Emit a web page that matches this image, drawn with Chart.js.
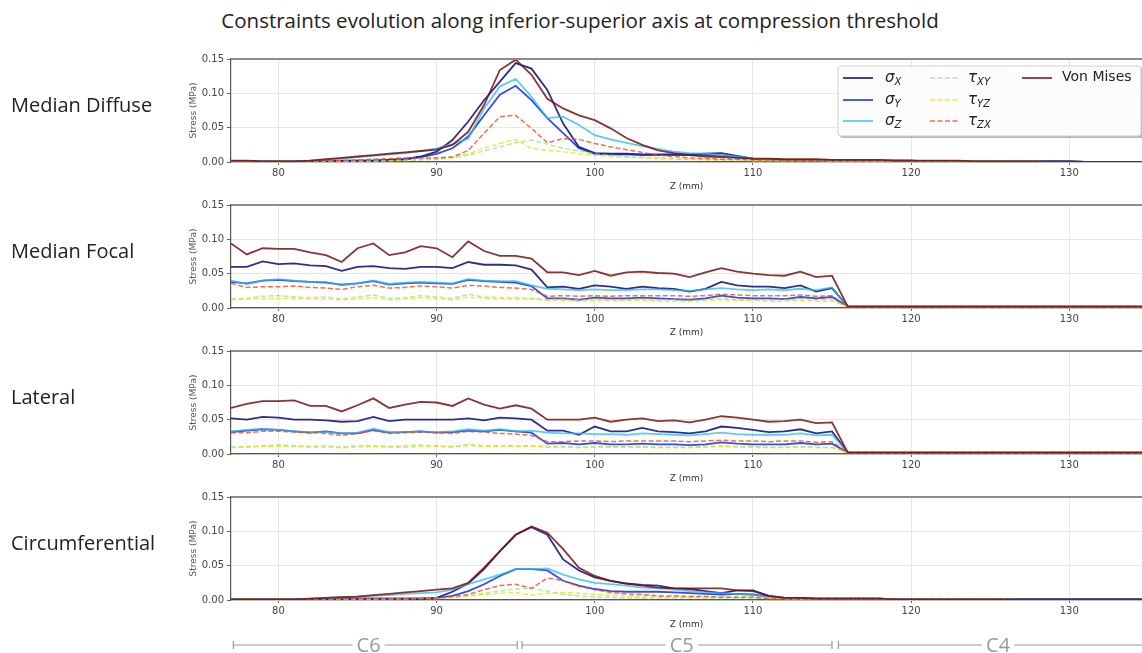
<!DOCTYPE html>
<html>
<head>
<meta charset="utf-8">
<title>Constraints evolution</title>
<script src="https://cdn.jsdelivr.net/npm/chart.js@4.4.1/dist/chart.umd.min.js"></script>
<style>
  html, body { margin: 0; padding: 0; background: #fff; width: 1142px; height: 653px; overflow: hidden; }
  .wrap { position: relative; width: 1142px; height: 653px; overflow: hidden; }
  canvas { position: absolute; left: 0; }
  .title { position: absolute; left: 80px; width: 1000px; top: 6px; text-align: center;
           font: 20.5px 'Open Sans', sans-serif; color: #222; white-space: nowrap; }
  .row-label { position: absolute; left: 11px; font: 20px 'Open Sans', sans-serif; color: #222;
               transform: translateY(-50%); white-space: nowrap; }
</style>
</head>
<body>
<div class="wrap" id="wrap">
  <div class="title">Constraints evolution along inferior-superior axis at compression threshold</div>
</div>

<script>
// Z positions (mm) along the inferior-superior axis
const zValues = [77,78,79,80,81,82,83,84,85,86,87,88,89,90,91,92,93,94,95,96,
  97,98,99,100,101,102,103,104,105,106,107,108,109,110,111,112,113,114,115,116,
  117,118,119,120,121,122,123,124,125,126,127,128,129,130,131,132,133,134,135];
const xTicks = [80, 90, 100, 110, 120, 130];
const yTicks = [0, 0.05, 0.10, 0.15];

const panelNames = ['Median Diffuse', 'Median Focal', 'Lateral', 'Circumferential'];

// legend: base symbol + subscript
const seriesBase = ['σ', 'σ', 'σ', 'τ', 'τ', 'τ', 'Von Mises'];
const seriesSub = ['X', 'Y', 'Z', 'XY', 'YZ', 'ZX', ''];
const seriesColors = ['rgba(0,0,110,0.82)', 'rgba(0,30,235,0.8)', 'rgba(40,185,240,0.75)',
  'rgba(120,225,100,0.6)', 'rgba(245,215,0,0.7)', 'rgba(240,75,30,0.8)', 'rgba(120,15,15,0.85)'];
const seriesDashed = [false, false, false, true, true, true, false];

// vertebra levels under the last panel
const vertebraNames = ['C6', 'C5', 'C4'];
const vertebraStart = [77.15, 95.4, 115.4];
const vertebraEnd = [95.1, 115.0, 136];
const vertebraLabelZ = [85.7, 105.5, 125.5];

// ---- Median Diffuse ----
const diffuseSx = [0.001,0.001,0.001,0.001,0.001,0.001,0.001,0.002,0.002,0.002,
  0.003,0.004,0.008,0.015,0.032,0.059,0.090,0.117,0.144,0.136,
  0.105,0.056,0.022,0.013,0.012,0.012,0.011,0.011,0.011,0.011,
  0.012,0.013,0.009,0.005,0.004,0.003,0.003,0.003,0.002,0.002,
  0.002,0.002,0.002,0.002,0.001,0.001,0.001,0.001,0.001,0.001,
  0.001,0.001,0.001,0.001,0,0,0,0,0];
const diffuseSy = [0.001,0.001,0.001,0.001,0.001,0.001,0.001,0.001,0.002,0.002,
  0.003,0.004,0.007,0.012,0.020,0.037,0.068,0.098,0.111,0.090,
  0.064,0.042,0.020,0.012,0.011,0.011,0.010,0.010,0.010,0.010,
  0.010,0.009,0.007,0.005,0.004,0.003,0.003,0.003,0.002,0.002,
  0.002,0.002,0.002,0.002,0.001,0.001,0.001,0.001,0.001,0.001,
  0.001,0.001,0.001,0.001,0,0,0,0,0];
const diffuseSz = [0.001,0.001,0.001,0.001,0.001,0.002,0.003,0.005,0.007,0.009,
  0.011,0.013,0.016,0.020,0.026,0.034,0.078,0.110,0.121,0.095,
  0.064,0.066,0.054,0.039,0.033,0.028,0.023,0.019,0.015,0.013,
  0.012,0.010,0.008,0.005,0.004,0.003,0.003,0.003,0.002,0.002,
  0.002,0.002,0.002,0.002,0.001,0.001,0.001,0.001,0.001,0.001,
  0.001,0.001,0.001,0.001,0,0,0,0,0];
const diffuseTxy = [0.001,0.001,0.001,0.001,0.001,0.001,0.001,0.001,0.001,0.001,
  0.002,0.002,0.003,0.004,0.006,0.010,0.016,0.022,0.028,0.032,
  0.026,0.020,0.016,0.012,0.010,0.008,0.007,0.006,0.005,0.004,
  0.004,0.003,0.003,0.002,0.002,0.002,0.002,0.002,0.001,0.001,
  0.001,0.001,0.001,0.001,0.001,0.001,0.001,0.001,0.001,0.001,
  0.001,0.001,0,0,0,0,0,0,0];
const diffuseTyz = [0.001,0.001,0.001,0.001,0.001,0.001,0.001,0.001,0.001,0.001,
  0.002,0.003,0.004,0.006,0.008,0.012,0.020,0.027,0.033,0.020,
  0.017,0.015,0.012,0.010,0.008,0.007,0.006,0.005,0.004,0.004,
  0.003,0.003,0.003,0.002,0.002,0.002,0.002,0.002,0.001,0.001,
  0.001,0.001,0.001,0.001,0.001,0.001,0.001,0.001,0.001,0.001,
  0.001,0.001,0,0,0,0,0,0,0];
const diffuseTzx = [0.001,0.001,0.001,0.001,0.001,0.001,0.002,0.002,0.003,0.004,
  0.005,0.006,0.006,0.006,0.007,0.017,0.042,0.066,0.068,0.049,
  0.028,0.034,0.033,0.027,0.022,0.018,0.014,0.010,0.008,0.006,
  0.005,0.004,0.004,0.003,0.003,0.003,0.002,0.002,0.002,0.002,
  0.002,0.002,0.001,0.001,0.001,0.001,0.001,0.001,0.001,0.001,
  0.001,0.001,0,0,0,0,0,0,0];
const diffuseVm = [0.002,0.002,0.001,0.001,0.001,0.002,0.004,0.006,0.008,0.010,
  0.012,0.014,0.016,0.018,0.025,0.044,0.083,0.134,0.149,0.127,
  0.092,0.078,0.068,0.061,0.049,0.035,0.025,0.017,0.013,0.010,
  0.008,0.007,0.006,0.005,0.005,0.004,0.004,0.004,0.003,0.003,
  0.003,0.003,0.002,0.002,0.002,0.002,0.002,0.001,0.001,0.001,
  0.001,0.001,0.001,0.001,0,0,0,0,0];

// ---- Median Focal ----
const focalSx = [0.060,0.060,0.068,0.064,0.065,0.062,0.061,0.054,0.060,0.061,
  0.058,0.057,0.060,0.060,0.058,0.067,0.063,0.063,0.062,0.056,
  0.030,0.031,0.028,0.033,0.031,0.028,0.031,0.029,0.028,0.024,
  0.028,0.038,0.033,0.031,0.031,0.029,0.033,0.024,0.029,0.002,
  0.002,0.002,0.002,0.002,0.002,0.002,0.002,0.002,0.002,0.002,
  0.002,0.002,0.002,0.002,0.002,0.002,0.002,0.002,0.002];
const focalSy = [0.038,0.036,0.040,0.041,0.039,0.038,0.037,0.034,0.036,0.039,
  0.034,0.036,0.037,0.036,0.035,0.041,0.039,0.038,0.037,0.032,
  0.014,0.014,0.012,0.015,0.014,0.014,0.015,0.014,0.013,0.012,
  0.014,0.018,0.015,0.014,0.014,0.013,0.016,0.014,0.016,0.002,
  0.002,0.002,0.002,0.002,0.002,0.002,0.002,0.002,0.002,0.002,
  0.002,0.002,0.002,0.002,0.002,0.002,0.002,0.002,0.002];
const focalSz = [0.040,0.035,0.040,0.042,0.040,0.038,0.038,0.033,0.036,0.040,
  0.035,0.037,0.038,0.037,0.036,0.042,0.040,0.039,0.039,0.033,
  0.028,0.027,0.026,0.027,0.026,0.026,0.027,0.027,0.026,0.025,
  0.027,0.029,0.027,0.026,0.027,0.026,0.028,0.026,0.030,0.002,
  0.002,0.002,0.002,0.002,0.002,0.002,0.002,0.002,0.002,0.002,
  0.002,0.002,0.002,0.002,0.002,0.002,0.002,0.002,0.002];
const focalTxy = [0.013,0.014,0.017,0.018,0.016,0.015,0.016,0.013,0.016,0.019,
  0.014,0.015,0.018,0.016,0.014,0.020,0.016,0.015,0.015,0.014,
  0.012,0.013,0.012,0.013,0.012,0.012,0.013,0.012,0.012,0.011,
  0.012,0.014,0.012,0.012,0.012,0.012,0.013,0.012,0.012,0.002,
  0.002,0.002,0.002,0.002,0.002,0.002,0.002,0.002,0.002,0.002,
  0.002,0.002,0.002,0.002,0.002,0.002,0.002,0.002,0.002];
const focalTyz = [0.012,0.013,0.014,0.014,0.014,0.013,0.013,0.012,0.013,0.015,
  0.012,0.013,0.015,0.014,0.012,0.016,0.014,0.013,0.013,0.013,
  0.011,0.011,0.010,0.011,0.011,0.011,0.011,0.010,0.010,0.010,
  0.011,0.012,0.011,0.011,0.010,0.010,0.011,0.010,0.010,0.002,
  0.002,0.002,0.002,0.002,0.002,0.002,0.002,0.002,0.002,0.002,
  0.002,0.002,0.002,0.002,0.002,0.002,0.002,0.002,0.002];
const focalTzx = [0.036,0.030,0.031,0.031,0.032,0.030,0.029,0.027,0.031,0.033,
  0.029,0.030,0.032,0.031,0.029,0.033,0.032,0.030,0.029,0.027,
  0.017,0.018,0.017,0.018,0.017,0.018,0.018,0.018,0.018,0.017,
  0.018,0.020,0.019,0.018,0.018,0.018,0.019,0.017,0.018,0.002,
  0.002,0.002,0.002,0.002,0.002,0.002,0.002,0.002,0.002,0.002,
  0.002,0.002,0.002,0.002,0.002,0.002,0.002,0.002,0.002];
const focalVm = [0.094,0.078,0.087,0.086,0.086,0.081,0.077,0.067,0.087,0.094,
  0.077,0.081,0.090,0.087,0.074,0.097,0.083,0.076,0.076,0.072,
  0.052,0.052,0.048,0.054,0.047,0.052,0.053,0.051,0.050,0.045,
  0.052,0.058,0.053,0.050,0.048,0.047,0.053,0.045,0.047,0.002,
  0.002,0.002,0.002,0.002,0.002,0.002,0.002,0.002,0.002,0.002,
  0.002,0.002,0.002,0.002,0.002,0.002,0.002,0.002,0.002];

// ---- Lateral ----
const lateralSx = [0.052,0.050,0.054,0.053,0.050,0.050,0.049,0.047,0.048,0.054,
  0.048,0.050,0.050,0.050,0.050,0.052,0.049,0.053,0.052,0.050,
  0.034,0.034,0.028,0.040,0.033,0.033,0.038,0.033,0.032,0.030,
  0.033,0.040,0.038,0.035,0.032,0.033,0.036,0.030,0.033,0.002,
  0.002,0.002,0.002,0.002,0.002,0.002,0.002,0.002,0.002,0.002,
  0.002,0.002,0.002,0.002,0.002,0.002,0.002,0.002,0.002];
const lateralSy = [0.032,0.034,0.036,0.035,0.033,0.031,0.033,0.030,0.030,0.035,
  0.031,0.032,0.033,0.031,0.032,0.034,0.033,0.035,0.033,0.031,
  0.015,0.016,0.014,0.016,0.014,0.014,0.015,0.014,0.014,0.013,
  0.014,0.017,0.015,0.014,0.014,0.014,0.016,0.014,0.015,0.002,
  0.002,0.002,0.002,0.002,0.002,0.002,0.002,0.002,0.002,0.002,
  0.002,0.002,0.002,0.002,0.002,0.002,0.002,0.002,0.002];
const lateralSz = [0.033,0.035,0.037,0.035,0.033,0.032,0.032,0.030,0.031,0.037,
  0.032,0.032,0.033,0.032,0.033,0.036,0.034,0.036,0.033,0.034,
  0.031,0.030,0.030,0.029,0.029,0.028,0.030,0.029,0.028,0.027,
  0.029,0.031,0.029,0.028,0.028,0.028,0.030,0.027,0.028,0.002,
  0.002,0.002,0.002,0.002,0.002,0.002,0.002,0.002,0.002,0.002,
  0.002,0.002,0.002,0.002,0.002,0.002,0.002,0.002,0.002];
const lateralTxy = [0.010,0.011,0.012,0.013,0.012,0.011,0.012,0.010,0.012,0.012,
  0.011,0.012,0.013,0.012,0.011,0.014,0.012,0.012,0.012,0.012,
  0.011,0.011,0.010,0.011,0.011,0.011,0.011,0.010,0.010,0.010,
  0.011,0.012,0.011,0.011,0.010,0.010,0.011,0.010,0.010,0.002,
  0.002,0.002,0.002,0.002,0.002,0.002,0.002,0.002,0.002,0.002,
  0.002,0.002,0.002,0.002,0.002,0.002,0.002,0.002,0.002];
const lateralTyz = [0.009,0.010,0.011,0.011,0.011,0.010,0.010,0.009,0.010,0.011,
  0.010,0.010,0.011,0.011,0.010,0.012,0.011,0.011,0.011,0.011,
  0.010,0.010,0.009,0.010,0.010,0.010,0.010,0.009,0.009,0.009,
  0.010,0.011,0.010,0.010,0.009,0.009,0.010,0.009,0.009,0.002,
  0.002,0.002,0.002,0.002,0.002,0.002,0.002,0.002,0.002,0.002,
  0.002,0.002,0.002,0.002,0.002,0.002,0.002,0.002,0.002];
const lateralTzx = [0.031,0.031,0.033,0.033,0.032,0.031,0.030,0.027,0.030,0.034,
  0.030,0.031,0.032,0.031,0.030,0.033,0.032,0.030,0.029,0.027,
  0.018,0.018,0.019,0.019,0.018,0.019,0.019,0.019,0.019,0.018,
  0.019,0.020,0.019,0.019,0.018,0.019,0.019,0.017,0.018,0.002,
  0.002,0.002,0.002,0.002,0.002,0.002,0.002,0.002,0.002,0.002,
  0.002,0.002,0.002,0.002,0.002,0.002,0.002,0.002,0.002];
const lateralVm = [0.067,0.073,0.077,0.077,0.078,0.070,0.070,0.062,0.071,0.081,
  0.067,0.072,0.076,0.075,0.070,0.081,0.072,0.066,0.071,0.066,
  0.050,0.050,0.050,0.053,0.047,0.050,0.052,0.048,0.049,0.046,
  0.050,0.055,0.053,0.050,0.047,0.048,0.050,0.045,0.046,0.002,
  0.002,0.002,0.002,0.002,0.002,0.002,0.002,0.002,0.002,0.002,
  0.002,0.002,0.002,0.002,0.002,0.002,0.002,0.002,0.002];

// ---- Circumferential ----
const circSx = [0.001,0.001,0.001,0.001,0.001,0.001,0.001,0.001,0.002,0.002,
  0.002,0.002,0.002,0.003,0.012,0.024,0.045,0.071,0.095,0.106,
  0.095,0.059,0.043,0.033,0.028,0.024,0.022,0.021,0.017,0.016,
  0.013,0.010,0.014,0.014,0.006,0.003,0.003,0.002,0.002,0.002,
  0.002,0.002,0.001,0.001,0.001,0.001,0.001,0.001,0.001,0.001,
  0.001,0.001,0.001,0.001,0.001,0.001,0.001,0.001,0.001];
const circSy = [0.001,0.001,0.001,0.001,0.001,0.001,0.001,0.001,0.002,0.002,
  0.002,0.002,0.002,0.003,0.006,0.013,0.023,0.035,0.045,0.045,
  0.043,0.028,0.021,0.016,0.013,0.012,0.012,0.012,0.011,0.010,
  0.009,0.008,0.009,0.008,0.005,0.003,0.002,0.002,0.002,0.002,
  0.002,0.002,0.001,0.001,0.001,0.001,0.001,0.001,0.001,0.001,
  0.001,0.001,0.001,0.001,0.001,0.001,0.001,0.001,0.001];
const circSz = [0.001,0.001,0.001,0.001,0.001,0.002,0.003,0.004,0.005,0.006,
  0.007,0.009,0.010,0.011,0.015,0.023,0.030,0.037,0.045,0.045,
  0.046,0.037,0.030,0.025,0.023,0.021,0.018,0.017,0.015,0.013,
  0.011,0.010,0.009,0.007,0.005,0.003,0.002,0.002,0.002,0.002,
  0.002,0.002,0.001,0.001,0.001,0.001,0.001,0.001,0.001,0.001,
  0.001,0.001,0.001,0.001,0.001,0.001,0.001,0.001,0.001];
const circTxy = [0.001,0.001,0.001,0.001,0.001,0.001,0.001,0.001,0.001,0.001,
  0.001,0.001,0.002,0.002,0.004,0.006,0.010,0.013,0.016,0.017,
  0.013,0.008,0.006,0.004,0.004,0.003,0.003,0.003,0.003,0.003,
  0.003,0.003,0.003,0.003,0.002,0.002,0.001,0.001,0.001,0.001,
  0.001,0.001,0.001,0.001,0.001,0.001,0.001,0.001,0.001,0.001,
  0,0,0,0,0,0,0,0,0];
const circTyz = [0.001,0.001,0.001,0.001,0.001,0.001,0.001,0.001,0.001,0.001,
  0.002,0.002,0.003,0.003,0.004,0.006,0.008,0.010,0.011,0.007,
  0.010,0.011,0.010,0.008,0.007,0.006,0.005,0.005,0.005,0.005,
  0.005,0.004,0.004,0.004,0.003,0.002,0.002,0.001,0.001,0.001,
  0.001,0.001,0.001,0.001,0.001,0.001,0.001,0.001,0.001,0.001,
  0,0,0,0,0,0,0,0,0];
const circTzx = [0.001,0.001,0.001,0.001,0.001,0.001,0.001,0.002,0.002,0.002,
  0.002,0.002,0.003,0.003,0.005,0.008,0.015,0.021,0.023,0.017,
  0.032,0.028,0.020,0.015,0.011,0.009,0.008,0.006,0.006,0.005,
  0.005,0.004,0.004,0.004,0.002,0.002,0.002,0.001,0.001,0.001,
  0.001,0.001,0.001,0.001,0.001,0.001,0.001,0.001,0.001,0.001,
  0,0,0,0,0,0,0,0,0];
const circVm = [0.001,0.001,0.001,0.001,0.001,0.002,0.003,0.004,0.005,0.007,
  0.009,0.011,0.013,0.015,0.017,0.025,0.047,0.071,0.095,0.107,
  0.098,0.074,0.047,0.035,0.028,0.024,0.021,0.018,0.017,0.017,
  0.017,0.017,0.014,0.013,0.006,0.003,0.003,0.002,0.002,0.002,
  0.002,0.002,0.001,0.001,0.001,0.001,0.001,0.001,0.001,0.001,
  0.001,0.001,0.001,0.001,0.001,0.001,0.001,0.001,0.001];

const panelSeries = [
  [diffuseSx, diffuseSy, diffuseSz, diffuseTxy, diffuseTyz, diffuseTzx, diffuseVm],
  [focalSx, focalSy, focalSz, focalTxy, focalTyz, focalTzx, focalVm],
  [lateralSx, lateralSy, lateralSz, lateralTxy, lateralTyz, lateralTzx, lateralVm],
  [circSx, circSy, circSz, circTxy, circTyz, circTzx, circVm]
];

// layout of the four stacked panels (page pixels)
const panelTops = [59, 205, 351, 497];
const plotHeight = 103;
const padTop = 9, padLeft = 188, xAxisH = 30, yAxisW = 43;

function lineWidth(i) { return seriesDashed[i] ? 1.5 : 1.8; }

// top spine, drawn above the lines like matplotlib
const topSpine = {
  id: 'topSpine',
  afterDatasetsDraw(chart) {
    const { ctx, chartArea: a } = chart;
    ctx.save();
    ctx.strokeStyle = '#8c8c8c';
    ctx.lineWidth = 2;
    ctx.beginPath();
    ctx.moveTo(a.left, a.top);
    ctx.lineTo(a.right, a.top);
    ctx.stroke();
    ctx.restore();
  }
};

function drawLabel(ctx, i, x, y) {
  ctx.fillStyle = '#222';
  ctx.textBaseline = 'middle';
  ctx.textAlign = 'left';
  if (!seriesSub[i]) {
    ctx.font = '14px "DejaVu Sans"';
    ctx.fillText(seriesBase[i], x, y - 1);
    return;
  }
  ctx.font = 'italic 15px "DejaVu Sans"';
  ctx.fillText(seriesBase[i], x, y);
  const w = ctx.measureText(seriesBase[i]).width;
  ctx.font = 'italic 10px "DejaVu Sans"';
  ctx.fillText(seriesSub[i], x + w, y + 4);
}

// legend in the first panel (3 columns, column-major like matplotlib)
const stressLegend = {
  id: 'stressLegend',
  afterDraw(chart) {
    const ctx = chart.ctx;
    const bx = 838, by = 16, bw = 303, bh = 70;
    ctx.save();
    ctx.fillStyle = 'rgba(0,0,0,0.28)';
    ctx.beginPath(); ctx.roundRect(bx + 2, by + 2, bw, bh, 3); ctx.fill();
    ctx.fillStyle = 'rgba(255,255,255,0.95)';
    ctx.strokeStyle = '#cfcfcf';
    ctx.lineWidth = 1;
    ctx.beginPath(); ctx.roundRect(bx, by, bw, bh, 3); ctx.fill(); ctx.stroke();

    const colLine = [843, 930, 1022];
    const colText = [885, 968, 1062];
    const rowY = [28, 50, 71];
    seriesBase.forEach((b, i) => {
      const col = Math.floor(i / 3), row = i % 3;
      const y = rowY[row];
      ctx.strokeStyle = seriesColors[i];
      ctx.lineWidth = lineWidth(i);
      ctx.setLineDash(seriesDashed[i] ? [5, 2.5] : []);
      ctx.beginPath();
      ctx.moveTo(colLine[col], y);
      ctx.lineTo(colLine[col] + 30, y);
      ctx.stroke();
      ctx.setLineDash([]);
      drawLabel(ctx, i, colText[col], y);
    });
    ctx.restore();
  }
};

// vertebra ranges below the last panel
const vertebraBar = {
  id: 'vertebraBar',
  afterDraw(chart) {
    const ctx = chart.ctx, xs = chart.scales.x;
    const y = chart.chartArea.bottom + 45;
    ctx.save();
    ctx.strokeStyle = '#9a9a9a';
    ctx.fillStyle = '#9a9a9a';
    ctx.lineWidth = 1.2;
    ctx.font = '20px "Open Sans"';
    ctx.textAlign = 'center';
    ctx.textBaseline = 'middle';
    vertebraNames.forEach((name, i) => {
      const x0 = xs.getPixelForValue(vertebraStart[i]);
      const x1 = xs.getPixelForValue(vertebraEnd[i]);
      const xm = xs.getPixelForValue(vertebraLabelZ[i]);
      const w = ctx.measureText(name).width;
      ctx.beginPath();
      ctx.moveTo(x0, y); ctx.lineTo(xm - w / 2 - 4, y);
      ctx.moveTo(xm + w / 2 + 4, y); ctx.lineTo(x1, y);
      ctx.moveTo(x0, y - 4); ctx.lineTo(x0, y + 4);
      ctx.moveTo(x1, y - 4); ctx.lineTo(x1, y + 4);
      ctx.stroke();
      ctx.fillText(name, xm, y + 1);
    });
    ctx.restore();
  }
};

function buildPanel(p) {
  const isLast = p === panelSeries.length - 1;
  const padBottom = isLast ? 34 : 0;
  const canvas = document.createElement('canvas');
  const h = padTop + plotHeight + xAxisH + padBottom;
  canvas.width = 1142;
  canvas.height = h;
  canvas.style.width = '1142px';
  canvas.style.height = h + 'px';
  canvas.style.top = (panelTops[p] - padTop) + 'px';
  document.getElementById('wrap').appendChild(canvas);

  const label = document.createElement('div');
  label.className = 'row-label';
  label.style.top = (panelTops[p] + 45) + 'px';
  label.textContent = panelNames[p];
  document.getElementById('wrap').appendChild(label);

  const datasets = panelSeries[p].map((arr, i) => ({
    label: seriesBase[i] + seriesSub[i],
    data: zValues.map((z, k) => ({ x: z, y: arr[k] })),
    borderColor: seriesColors[i],
    borderWidth: lineWidth(i),
    borderDash: seriesDashed[i] ? [5, 2.5] : [],
    pointRadius: 0,
    fill: false,
    tension: 0,
    order: 7 - i
  }));

  const plugins = [topSpine];
  if (p === 0) plugins.push(stressLegend);
  if (isLast) plugins.push(vertebraBar);

  new Chart(canvas.getContext('2d'), {
    type: 'line',
    data: { datasets },
    plugins,
    options: {
      responsive: false,
      animation: false,
      devicePixelRatio: 1,
      layout: { padding: { left: padLeft, right: 0, top: padTop, bottom: padBottom } },
      plugins: { legend: { display: false }, tooltip: { enabled: false } },
      scales: {
        x: {
          type: 'linear',
          min: 77,
          max: 134.6,
          afterBuildTicks: s => { s.ticks = xTicks.map(v => ({ value: v })); },
          afterFit: s => { s.height = xAxisH; },
          grid: { color: '#e6e6e6', tickLength: 3, tickColor: '#666' },
          border: { color: '#555', width: 1.2 },
          ticks: { font: { family: 'DejaVu Sans', size: 10 }, color: '#444', padding: 2, maxRotation: 0 },
          title: { display: true, text: 'Z (mm)', font: { family: 'DejaVu Sans', size: 9 }, color: '#333', padding: 0 }
        },
        y: {
          min: 0,
          max: 0.15,
          afterBuildTicks: s => { s.ticks = yTicks.map(v => ({ value: v })); },
          afterFit: s => { s.width = yAxisW; },
          grid: { color: '#e6e6e6', tickLength: 4, tickColor: '#666' },
          border: { color: '#555', width: 1.2 },
          ticks: { font: { family: 'DejaVu Sans', size: 10 }, color: '#444', padding: 3,
                   callback: v => v.toFixed(2) },
          title: { display: true, text: 'Stress (MPa)', font: { family: 'DejaVu Sans', size: 9 }, color: '#555', padding: 0 }
        }
      }
    }
  });
}

panelSeries.forEach((s, p) => buildPanel(p));
</script>
</body>
</html>
